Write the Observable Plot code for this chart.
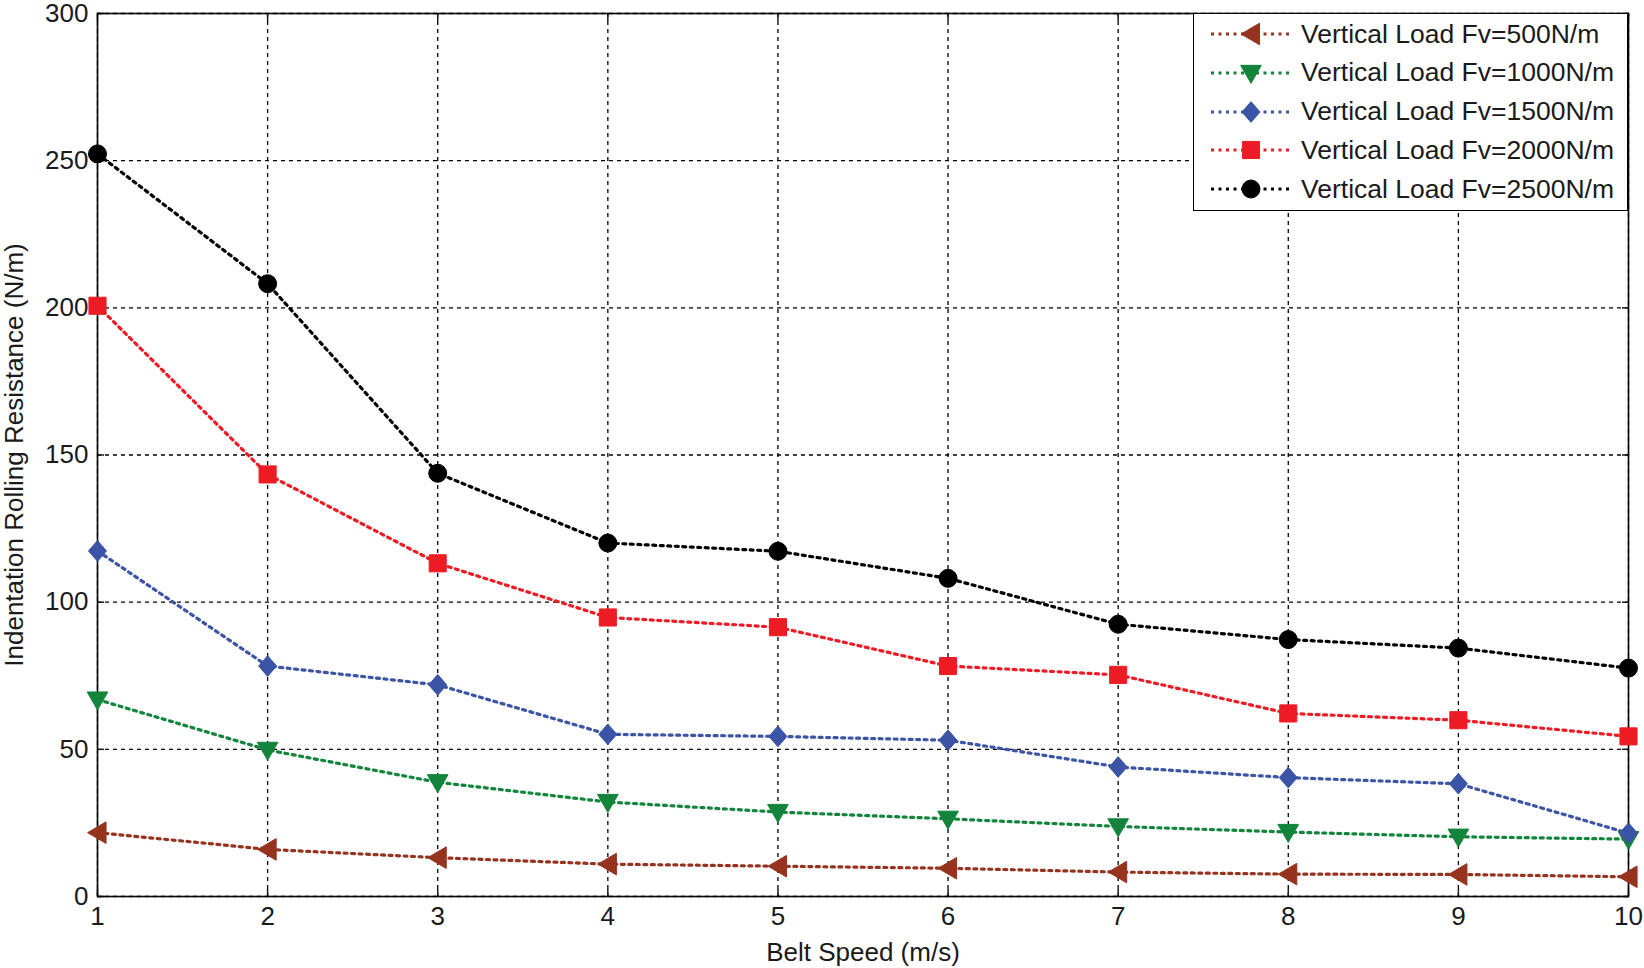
<!DOCTYPE html>
<html>
<head>
<meta charset="utf-8">
<script src="https://cdn.jsdelivr.net/npm/d3@7"></script>
<script src="https://cdn.jsdelivr.net/npm/@observablehq/plot@0.6"></script>
<style>
  html, body { margin: 0; padding: 0; background: #fff; }
  #wrap { position: relative; width: 1644px; height: 968px; font-family: "Liberation Sans", Arial, sans-serif; }
  #legend { position: absolute; left: 1193px; top: 13px; width: 435px; height: 198px; border: 1.5px solid #000; background: #fff; box-sizing: border-box; }
  .row { position: absolute; left: 0; height: 38px; display: flex; align-items: center; }
  .row span { font-size: 26.5px; color: #1a1a1a; margin-left: 12px; white-space: nowrap; }
</style>
</head>
<body>
<div id="wrap"><div id="chart"></div><div id="legend"></div></div>
<script>
// ---- data ----
const speeds = [1, 2, 3, 4, 5, 6, 7, 8, 9, 10];
const loads = [
  "Vertical Load Fv=500N/m",
  "Vertical Load Fv=1000N/m",
  "Vertical Load Fv=1500N/m",
  "Vertical Load Fv=2000N/m",
  "Vertical Load Fv=2500N/m"
];
const fv500  = [21.7, 16.0, 13.2, 11.0, 10.3, 9.6, 8.3, 7.6, 7.5, 6.7];
const fv1000 = [66.9, 49.8, 38.8, 32.1, 28.7, 26.4, 23.8, 21.9, 20.3, 19.5];
const fv1500 = [117.4, 78.3, 71.9, 55.1, 54.4, 53.1, 44.0, 40.4, 38.3, 21.5];
const fv2000 = [200.7, 143.4, 113.2, 94.8, 91.5, 78.3, 75.3, 62.2, 59.9, 54.4];
const fv2500 = [252.3, 208.2, 143.8, 120.1, 117.3, 108.1, 92.5, 87.3, 84.4, 77.6];
const yTicks = [0, 50, 100, 150, 200, 250, 300];
const colors = ["#96331f", "#12843b", "#3b54a5", "#ed1c24", "#000000"];

const seriesValues = [fv500, fv1000, fv1500, fv2000, fv2500];
const data = loads.flatMap((load, i) => speeds.map((s, j) => ({load, speed: s, value: seriesValues[i][j]})));

// ---- marker symbols ----
const rOf = size => Math.sqrt(size / Math.PI);
const triLeft = {draw(c, size) { const r = rOf(size); c.moveTo(-r * 1.1, 0); c.lineTo(r * 0.95, -r * 1.2); c.lineTo(r * 0.95, r * 1.2); c.closePath(); }};
const triDown = {draw(c, size) { const r = rOf(size); c.moveTo(-r * 1.15, -r * 0.85); c.lineTo(r * 1.15, -r * 0.85); c.lineTo(0, r * 1.15); c.closePath(); }};
const diamond = {draw(c, size) { const r = rOf(size); c.moveTo(0, -r * 1.15); c.lineTo(r * 1.0, 0); c.lineTo(0, r * 1.15); c.lineTo(-r * 1.0, 0); c.closePath(); }};
const square  = {draw(c, size) { const r = rOf(size); c.rect(-r * 0.95, -r * 0.95, r * 1.9, r * 1.9); }};
const circle  = {draw(c, size) { const r = rOf(size); c.moveTo(r, 0); c.arc(0, 0, r, 0, 2 * Math.PI); c.closePath(); }};
const symbols = [triLeft, triDown, diamond, square, circle];

const dash = "3,4.5";
const fmt = d3.format("d");
const marks = [
  Plot.gridX(speeds, {stroke: "#000", strokeOpacity: 1, strokeWidth: 1.3, strokeDasharray: "4,4"}),
  Plot.gridY(yTicks, {stroke: "#000", strokeOpacity: 1, strokeWidth: 1.3, strokeDasharray: "4,4"}),
  Plot.axisX(speeds, {tickSize: -7, tickFormat: () => "", strokeWidth: 1.5, label: null}),
  Plot.axisY(yTicks, {tickSize: -7, tickFormat: () => "", strokeWidth: 1.5, label: null}),
  Plot.axisX(speeds, {anchor: "top", tickSize: -7, tickFormat: () => "", strokeWidth: 1.5, label: null}),
  Plot.axisY(yTicks, {anchor: "right", tickSize: -7, tickFormat: () => "", strokeWidth: 1.5, label: null}),
  Plot.axisX(speeds, {tickSize: 0, tickPadding: 10, tickFormat: fmt, fontSize: 26, fill: "#1a1a1a", label: "Belt Speed (m/s)", labelArrow: "none", labelAnchor: "center", labelOffset: 64}),
  Plot.axisY(yTicks, {tickSize: 0, tickPadding: 9, tickFormat: fmt, fontSize: 26, fill: "#1a1a1a", label: "Indentation Rolling Resistance (N/m)", labelArrow: "none", labelAnchor: "center", labelOffset: 93}),
  Plot.frame({stroke: "#000", strokeWidth: 1.6})
];
loads.forEach((load, i) => {
  const rows = data.filter(d => d.load === load);
  marks.push(Plot.line(rows, {x: "speed", y: "value", stroke: colors[i], strokeWidth: 3.2, strokeDasharray: dash}));
});
loads.forEach((load, i) => {
  const rows = data.filter(d => d.load === load);
  marks.push(Plot.dot(rows, {x: "speed", y: "value", fill: colors[i], stroke: colors[i], strokeWidth: 1, symbol: symbols[i], r: 9}));
});

const chart = Plot.plot({
  width: 1644,
  height: 968,
  marginLeft: 97,
  marginRight: 16,
  marginTop: 13,
  marginBottom: 72,
  style: {fontFamily: "'Liberation Sans', Arial, sans-serif", fontSize: "26px", color: "#1a1a1a", background: "#fff", overflow: "visible"},
  x: {domain: [1, 10]},
  y: {domain: [0, 300]},
  marks
});
document.getElementById("chart").appendChild(chart);

// ---- legend (overlaid on the plot area's top-right corner) ----
const legend = document.getElementById("legend");
loads.forEach((load, i) => {
  const row = document.createElement("div");
  row.className = "row";
  row.style.top = (1 + i * 38.8) + "px";
  const p = d3.path();
  symbols[i].draw(p, Math.PI * 81);
  row.innerHTML = `<svg width="95" height="38" style="overflow:visible">
    <line x1="17" x2="95" y1="19" y2="19" stroke="${colors[i]}" stroke-width="3.2" stroke-dasharray="${dash}"/>
    <path transform="translate(57,19)" d="${p.toString()}" fill="${colors[i]}" stroke="${colors[i]}"/>
  </svg><span>${load}</span>`;
  legend.appendChild(row);
});
</script>
</body>
</html>
